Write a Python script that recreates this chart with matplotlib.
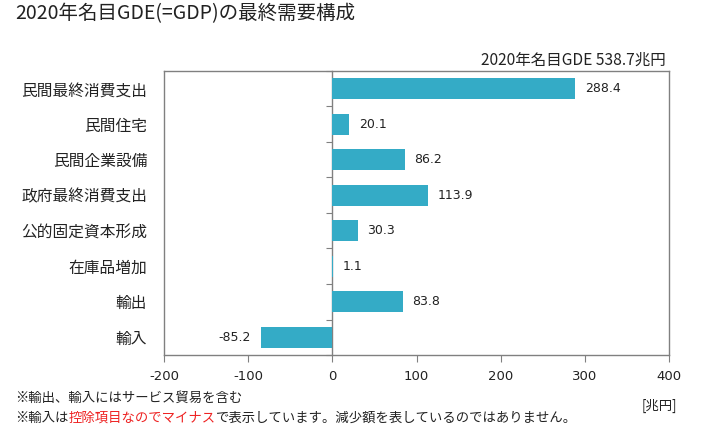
import matplotlib
matplotlib.use("Agg")
import matplotlib.pyplot as plt
from matplotlib.offsetbox import TextArea, HPacker, AnchoredOffsetbox

plt.rcParams['font.family'] = ['Noto Sans CJK JP', 'DejaVu Sans']

categories = ["民間最終消費支出", "民間住宅", "民間企業設備", "政府最終消費支出",
              "公的固定資本形成", "在庫品増加", "輸出", "輸入"]
values = [288.4, 20.1, 86.2, 113.9, 30.3, 1.1, 83.8, -85.2]
xticks = [-200, -100, 0, 100, 200, 300, 400]
title = "2020年名目GDE(=GDP)の最終需要構成"
total_label = "2020年名目GDE 538.7兆円"
unit = "[兆円]"

bar_color = "#34abc6"
frame_color = "#808080"
text_color = "#222222"

fig = plt.figure(figsize=(7.01, 4.34), dpi=100)
ax = fig.add_axes([164/701, 1 - 355/434, (669-164)/701, (355-71)/434])

n = len(categories)
ypos = list(range(n))
ax.barh(ypos, values, height=0.6, color=bar_color, zorder=3)
ax.set_ylim(n - 0.5, -0.5)
ax.set_xlim(-200, 400)
ax.set_xticks(xticks)
ax.set_xticklabels([str(t) for t in xticks], family='DejaVu Sans', fontsize=9.5)
ax.set_yticks(ypos)
ax.set_yticklabels(categories, fontsize=11.3, color=text_color)
ax.tick_params(axis='y', length=0, pad=12)
ax.tick_params(axis='x', length=5, color=frame_color, pad=6, labelcolor=text_color)
for s in ax.spines.values():
    s.set_color(frame_color)
    s.set_linewidth(1.0)

# zero axis with category boundary ticks
sec = ax.secondary_yaxis(0, transform=ax.transData)
sec.set_yticks([i + 0.5 for i in range(-1, n)])
sec.set_yticklabels([])
sec.tick_params(length=4, color=frame_color, direction='out')
sec.spines['left'].set_color(frame_color)
sec.spines['left'].set_linewidth(1.0)

for y, v in zip(ypos, values):
    if v >= 0:
        ax.annotate(f"{v:.1f}", (v, y), xytext=(7, 0), textcoords='offset points',
                    ha='left', va='center', fontsize=9, family='DejaVu Sans', color=text_color)
    else:
        ax.annotate(f"{v:.1f}", (v, y), xytext=(-7, 0), textcoords='offset points',
                    ha='right', va='center', fontsize=9, family='DejaVu Sans', color=text_color)

fig.text(15/701, 1 - 14/434, title, fontsize=14, ha='left', va='center', color=text_color)
fig.text(666/701, 1 - 60/434, total_label, fontsize=11.2, ha='right', va='center', color=text_color)
fig.text(677/701, 1 - 406/434, unit, fontsize=9.6, ha='right', va='center', color=text_color)
fig.text(15/701, 1 - 398/434, "※輸出、輸入にはサービス貿易を含む", fontsize=9.6, ha='left', va='center', color=text_color)

parts = [("※輸入は", text_color), ("控除項目なのでマイナス", "#ee2222"),
         ("で表示しています。減少額を表しているのではありません。", text_color)]
boxes = [TextArea(t, textprops=dict(color=c, fontsize=9.6)) for t, c in parts]
pack = HPacker(children=boxes, align="center", pad=0, sep=0)
ab = AnchoredOffsetbox(loc='center left', child=pack, pad=0, frameon=False,
                       bbox_to_anchor=(15/701, 1 - 418/434), bbox_transform=fig.transFigure,
                       borderpad=0)
fig.add_artist(ab)

fig.savefig("out.png", dpi=100)
